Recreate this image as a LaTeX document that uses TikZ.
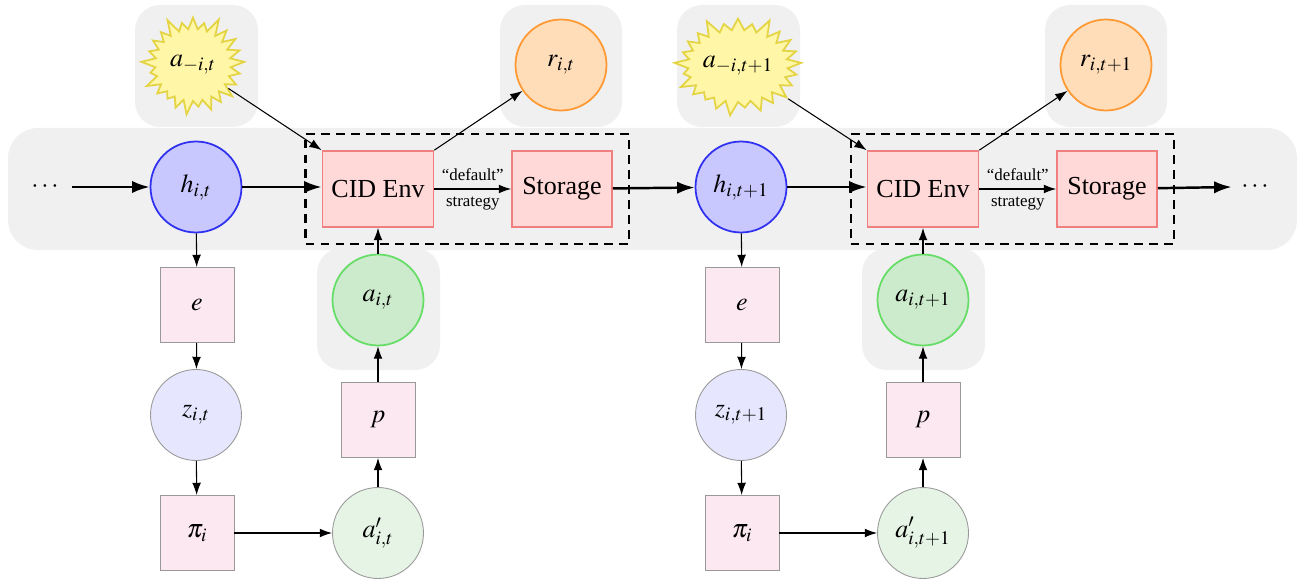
\documentclass[tikz,border=0pt]{standalone}
\usepackage{mathptmx}
\usepackage{fontspec}
\setmainfont{Liberation Serif}
\usetikzlibrary{shapes.symbols,arrows.meta,fit}
\definecolor{bgc}{HTML}{F0F0F0}
\definecolor{hfill}{HTML}{C8C8FF}
\definecolor{hdraw}{HTML}{3030F0}
\definecolor{cidfill}{HTML}{FFD8D8}
\definecolor{ciddraw}{HTML}{F08080}
\definecolor{rfill}{HTML}{FFDDB8}
\definecolor{rdraw}{HTML}{FF9933}
\definecolor{afill}{HTML}{CCEACC}
\definecolor{adraw}{HTML}{66DD66}
\definecolor{boxfill}{HTML}{FCE8F0}
\definecolor{zfill}{HTML}{E6E6FF}
\definecolor{apfill}{HTML}{E6F4E6}
\definecolor{starfill}{HTML}{FFF6A8}
\definecolor{stardraw}{HTML}{E4D444}
\begin{document}
\begin{tikzpicture}[x=0.02cm,y=-0.02cm,
  font=\fontsize{14.8}{17}\selectfont,
  bgbox/.style={fill=bgc, rounded corners=0.5cm},
  circ/.style={circle, minimum size=1.82cm, inner sep=0pt},
  hnode/.style={circ, fill=hfill, draw=hdraw, line width=1pt},
  rnode/.style={circ, fill=rfill, draw=rdraw, line width=1pt},
  anode/.style={circ, fill=afill, draw=adraw, line width=1pt},
  znode/.style={circ, fill=zfill, draw=gray!80, line width=0.5pt},
  apnode/.style={circ, fill=apfill, draw=gray!80, line width=0.5pt},
  sqbox/.style={rectangle, minimum width=1.48cm, minimum height=1.5cm, fill=boxfill, draw=gray!80, line width=0.5pt},
  cidbox/.style={rectangle, minimum width=2.22cm, minimum height=1.52cm, fill=cidfill, draw=ciddraw, line width=1pt},
  storbox/.style={rectangle, minimum width=2.0cm, minimum height=1.52cm, fill=cidfill, draw=ciddraw, line width=1pt},
  burst/.style={starburst, starburst points=25, starburst point height=0.32cm, random starburst=100, minimum width=2.15cm, minimum height=2.08cm, fill=starfill, draw=stardraw, line width=1pt, inner sep=0pt},
  dashbox/.style={draw, dashed, line width=1.3pt, dash pattern=on 5pt off 3.5pt, inner sep=0.32cm},
  thin/.style={-{Latex[length=7pt,width=5pt]}, line width=0.6pt},
  thick/.style={-{Latex[length=10pt,width=7pt]}, line width=1.4pt},
  small/.style={font=\fontsize{9.6}{11}\selectfont},
  dots/.style={inner sep=0pt}
]
\useasboundingbox (0,0) rectangle (1301,584);
% backgrounds
\fill[bgc, rounded corners=0.6cm] (8,128) rectangle (1297,250);
\fill[bgbox] (135,5) rectangle (258,127);
\fill[bgbox] (500,5) rectangle (622,127);
\fill[bgbox] (317,248) rectangle (440,370);
\fill[bgbox] (677,5) rectangle (800,127);
\fill[bgbox] (1045,5) rectangle (1167,127);
\fill[bgbox] (862,248) rectangle (985,370);

% ---- step t ----
\node[dots, minimum width=1.08cm] (dl) at (45,187) {$\cdots$};
\node[hnode] (h1) at (196,187) {$h_{i,t}$};
\node[cidbox] (cid1) at (378,189) {CID Env};
\node[storbox] (st1) at (562,189) {Storage};
\node[dashbox, fit=(cid1)(st1)] (db1) {};
\node[burst] (am1) at (193,65) {$a_{-i,t}$};
\node[rnode] (r1) at (561,65) {$r_{i,t}$};
\node[anode] (a1) at (378,300) {$a_{i,t}$};
\node[sqbox] (e1) at (197,305) {$e$};
\node[znode] (z1) at (196,415) {$z_{i,t}$};
\node[sqbox] (pi1) at (197,533) {$\pi_i$};
\node[apnode] (ap1) at (378,533) {$a'_{i,t}$};
\node[sqbox] (p1) at (378,420) {$p$};

% ---- step t+1 ----
\node[hnode] (h2) at (741,187) {$h_{i,t+1}$};
\node[cidbox] (cid2) at (923,189) {CID Env};
\node[storbox] (st2) at (1107,189) {Storage};
\node[dashbox, fit=(cid2)(st2)] (db2) {};
\node[burst] (am2) at (738,66) {$a_{-i,t+1}$};
\node[rnode] (r2) at (1106,65) {$r_{i,t+1}$};
\node[anode] (a2) at (923,300) {$a_{i,t+1}$};
\node[sqbox] (e2) at (742,305) {$e$};
\node[znode] (z2) at (741,415) {$z_{i,t+1}$};
\node[sqbox] (pi2) at (742,533) {$\pi_i$};
\node[apnode] (ap2) at (923,533) {$a'_{i,t+1}$};
\node[sqbox] (p2) at (923,420) {$p$};
\node[dots, minimum width=0.92cm] (dr) at (1255,187) {$\cdots$};

% ---- connectors ----
\draw[thick] (dl.east) -- (h1);
\draw[thick] (h1) -- (h1 -| cid1.west);
\draw[thin] (cid1) -- node[small, above=1pt]{“default”} node[small, below=1pt]{strategy} (st1);
\draw[thick] (st1) -- (h2);
\draw[thin] (am1) -- (cid1.north west);
\draw[thin] (cid1.north east) -- (r1);
\draw[thin] (a1) -- (cid1);
\draw[thin] (h1) -- (e1);
\draw[thin] (e1) -- (z1);
\draw[thin] (z1) -- (pi1);
\draw[thin] (pi1) -- (ap1);
\draw[thin] (ap1) -- (p1);
\draw[thin] (p1) -- (a1);

\draw[thick] (h2) -- (h2 -| cid2.west);
\draw[thin] (cid2) -- node[small, above=1pt]{“default”} node[small, below=1pt]{strategy} (st2);
\draw[thick] (st2) -- (dr.west);
\draw[thin] (am2) -- (cid2.north west);
\draw[thin] (cid2.north east) -- (r2);
\draw[thin] (a2) -- (cid2);
\draw[thin] (h2) -- (e2);
\draw[thin] (e2) -- (z2);
\draw[thin] (z2) -- (pi2);
\draw[thin] (pi2) -- (ap2);
\draw[thin] (ap2) -- (p2);
\draw[thin] (p2) -- (a2);
\end{tikzpicture}
\end{document}
